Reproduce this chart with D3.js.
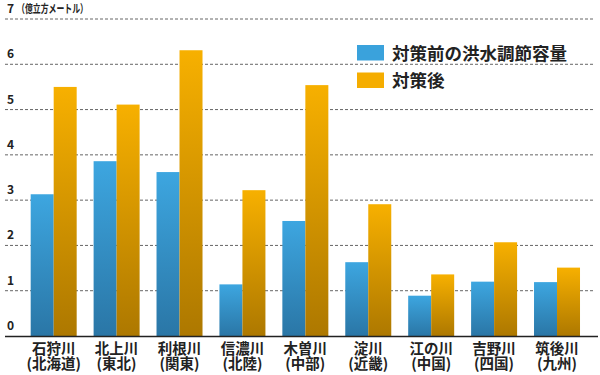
<!DOCTYPE html>
<html>
<head>
  <meta charset="utf-8">
  <script src="https://cdn.jsdelivr.net/npm/d3@7"></script>
  <style>
    body { margin: 0; background: #fff; }
    #chart { position: relative; width: 600px; height: 375px; }
    svg { position: absolute; left: 0; top: 0; }
    text { font-family: "Noto Sans CJK JP", "Noto Sans", sans-serif; font-weight: bold; fill: #222; }
    .cat {
      position: absolute; top: 340px; width: 70px; margin-left: -35px;
      text-align: center; font-family: "Noto Sans CJK JP", sans-serif;
      font-weight: bold; font-size: 14.5px; line-height: 15px; color: #222;
    }
  </style>
</head>
<body>
  <div id="chart"></div>
  <script>
    // data (億立方メートル)
    var rivers = ['石狩川', '北上川', '利根川', '信濃川', '木曽川', '淀川', '江の川', '吉野川', '筑後川'];
    var regions = ['北海道', '東北', '関東', '北陸', '中部', '近畿', '中国', '四国', '九州'];
    var before = [3.13, 3.86, 3.62, 1.14, 2.54, 1.63, 0.89, 1.20, 1.19];
    var after = [5.50, 5.11, 6.31, 3.22, 5.54, 2.91, 1.36, 2.07, 1.51];
    var yTicks = [0, 1, 2, 3, 4, 5, 6, 7];
    var seriesNames = ['対策前の洪水調節容量', '対策後'];

    var width = 600, height = 375;
    var chart = d3.select('#chart');

    var svg = chart.append('svg')
      .attr('width', width)
      .attr('height', height);

    // gradients for the bars
    var defs = svg.append('defs');
    function grad(id, top, bottom) {
      var g = defs.append('linearGradient').attr('id', id)
        .attr('x1', 0).attr('y1', 0).attr('x2', 0).attr('y2', 1);
      g.append('stop').attr('offset', '0%').attr('stop-color', top);
      g.append('stop').attr('offset', '100%').attr('stop-color', bottom);
    }
    grad('gBlue', '#3da6e0', '#2a76a6');
    grad('gOrange', '#f7b000', '#ad7800');

    var y = d3.scaleLinear().domain([0, 7]).range([336, 19]);
    var x = d3.scaleBand().domain(rivers).range([13.7, 597]).paddingInner(0.269).paddingOuter(0.27);
    var xs = d3.scaleBand().domain([0, 1]).range([0, x.bandwidth()]);

    // dashed grid lines
    svg.append('g').selectAll('line')
      .data(yTicks.filter(function (d) { return d > 0; }))
      .enter().append('line')
      .attr('x1', 5).attr('x2', 595)
      .attr('y1', function (d) { return y(d); })
      .attr('y2', function (d) { return y(d); })
      .attr('stroke', '#666')
      .attr('stroke-width', 1)
      .attr('stroke-dasharray', '3,2');

    // tick labels sit above their line
    svg.append('g').selectAll('text')
      .data(yTicks)
      .enter().append('text')
      .attr('x', 7)
      .attr('y', function (d) { return y(d) - 6; })
      .attr('font-size', 12)
      .text(function (d) { return d; });

    svg.append('text')
      .attr('x', 17).attr('y', y(7) - 6)
      .attr('font-size', 11.5)
      .attr('textLength', 71)
      .attr('lengthAdjust', 'spacingAndGlyphs')
      .text('（億立方メートル）');

    // bars
    var groups = svg.append('g').selectAll('g')
      .data(rivers)
      .enter().append('g')
      .attr('transform', function (d) { return 'translate(' + x(d) + ',0)'; });

    groups.append('rect')
      .attr('x', xs(0))
      .attr('width', xs.bandwidth())
      .attr('y', function (d, i) { return y(before[i]); })
      .attr('height', function (d, i) { return y(0) - y(before[i]); })
      .attr('fill', 'url(#gBlue)');

    groups.append('rect')
      .attr('x', xs(1))
      .attr('width', xs.bandwidth())
      .attr('y', function (d, i) { return y(after[i]); })
      .attr('height', function (d, i) { return y(0) - y(after[i]); })
      .attr('fill', 'url(#gOrange)');

    // baseline
    svg.append('line')
      .attr('x1', 5).attr('x2', 598)
      .attr('y1', y(0) + 0.5).attr('y2', y(0) + 0.5)
      .attr('stroke', '#222').attr('stroke-width', 1.5);

    // category labels (two lines each)
    chart.selectAll('div.cat')
      .data(rivers)
      .enter().append('div')
      .attr('class', 'cat')
      .style('left', function (d) { return (x(d) + x.bandwidth() / 2) + 'px'; })
      .html(function (d, i) { return d + '<br>(' + regions[i] + ')'; });

    // legend
    var legend = svg.append('g').selectAll('g')
      .data(seriesNames)
      .enter().append('g')
      .attr('transform', function (d, i) { return 'translate(357,' + (45 + i * 27.5) + ')'; });

    legend.append('rect')
      .attr('width', 27).attr('height', 15.5)
      .attr('fill', function (d, i) { return i === 0 ? '#3aa2dc' : '#f5ad00'; });

    legend.append('text')
      .attr('x', 35).attr('y', 14.5)
      .attr('font-size', 17.5)
      .text(function (d) { return d; });
  </script>
</body>
</html>
